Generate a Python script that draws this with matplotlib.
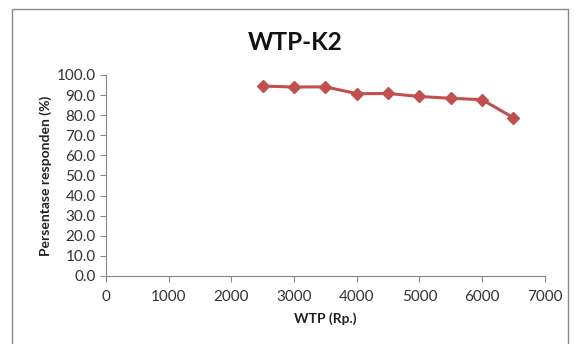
import matplotlib
matplotlib.use('Agg')
import matplotlib.pyplot as plt
from matplotlib.patches import Rectangle

wtp = [2500, 3000, 3500, 4000, 4500, 5000, 5500, 6000, 6500]
persen = [94.5, 94.0, 94.1, 90.7, 90.8, 89.3, 88.4, 87.7, 78.7]
xticks = [0, 1000, 2000, 3000, 4000, 5000, 6000, 7000]
yticks = [0, 10, 20, 30, 40, 50, 60, 70, 80, 90, 100]

plt.rcParams['font.family'] = ['Lato', 'DejaVu Sans']

fig = plt.figure(figsize=(5.79, 3.44), dpi=100)
# outer chart border
fig.patches.append(Rectangle((12 / 579, -0.05), 556 / 579, 1 - 9 / 344 + 0.05,
                             transform=fig.transFigure, fill=False,
                             edgecolor='#888888', linewidth=1))

ax = fig.add_axes([0.183, 0.198, 0.758, 0.584])
ax.plot(wtp, persen, color='#C0504D', linewidth=2.2, marker='D',
        markersize=6.5, markerfacecolor='#C0504D', markeredgecolor='#C0504D')

ax.set_xlim(0, 7000)
ax.set_ylim(0, 100)
ax.set_xticks(xticks)
ax.set_yticks(yticks)
ax.set_yticklabels(['%.1f' % v for v in yticks])
ax.tick_params(axis='both', labelsize=11, colors='#868686', labelcolor='#333333',
               length=4, direction='out')
ax.tick_params(axis='x', pad=6)
for s in ['top', 'right']:
    ax.spines[s].set_visible(False)
for s in ['left', 'bottom']:
    ax.spines[s].set_color('#868686')

ax.set_xlabel('WTP (Rp.)', fontsize=10, fontweight='bold', color='#222222', labelpad=6)
ax.set_ylabel('Persentase responden (%)', fontsize=10, fontweight='bold', color='#222222', labelpad=3)
fig.text(0.51, 0.875, 'WTP-K2', ha='center', va='center', fontsize=17.5,
         fontweight='bold', color='#111111')

fig.savefig('out.png', dpi=100)
